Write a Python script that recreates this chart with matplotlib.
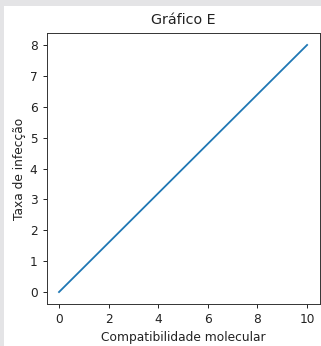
import matplotlib
matplotlib.use("Agg")
import matplotlib.pyplot as plt
from matplotlib.patches import Rectangle

# data
compatibilidade = [0, 10]
taxa = [0, 8]

W, H = 321, 346
fig = plt.figure(figsize=(W / 100, H / 100), dpi=100, facecolor="white")

# gray strip on top and left like the screenshot
gray = "#e4e4e6"
fig.patches.append(Rectangle((0, 1 - 6 / H), 1, 6 / H, transform=fig.transFigure,
                             facecolor=gray, edgecolor="none", zorder=-1))
fig.patches.append(Rectangle((0, 0), 4 / W, 1, transform=fig.transFigure,
                             facecolor=gray, edgecolor="none", zorder=-1))

left, right, top, bottom = 46.6, 319.5, 32.6, 304.4
ax = fig.add_axes([left / W, 1 - bottom / H, (right - left) / W, (bottom - top) / H])

ax.plot(compatibilidade, taxa, color="#1f77b4", linewidth=1.3)
ax.set_xticks([0, 2, 4, 6, 8, 10])
ax.set_yticks(range(0, 9))
ax.tick_params(labelsize=8.7, length=3, width=0.7, colors="#222222")
for s in ax.spines.values():
    s.set_linewidth(0.7)
    s.set_color("#333333")

ax.set_title("Gráfico E", fontsize=10.3, color="#222222")
ax.set_xlabel("Compatibilidade molecular", fontsize=8.8, labelpad=3, color="#222222")
ax.set_ylabel("Taxa de infecção", fontsize=8.8, labelpad=3, color="#222222")

fig.savefig("out.png", dpi=100, facecolor=fig.get_facecolor())
